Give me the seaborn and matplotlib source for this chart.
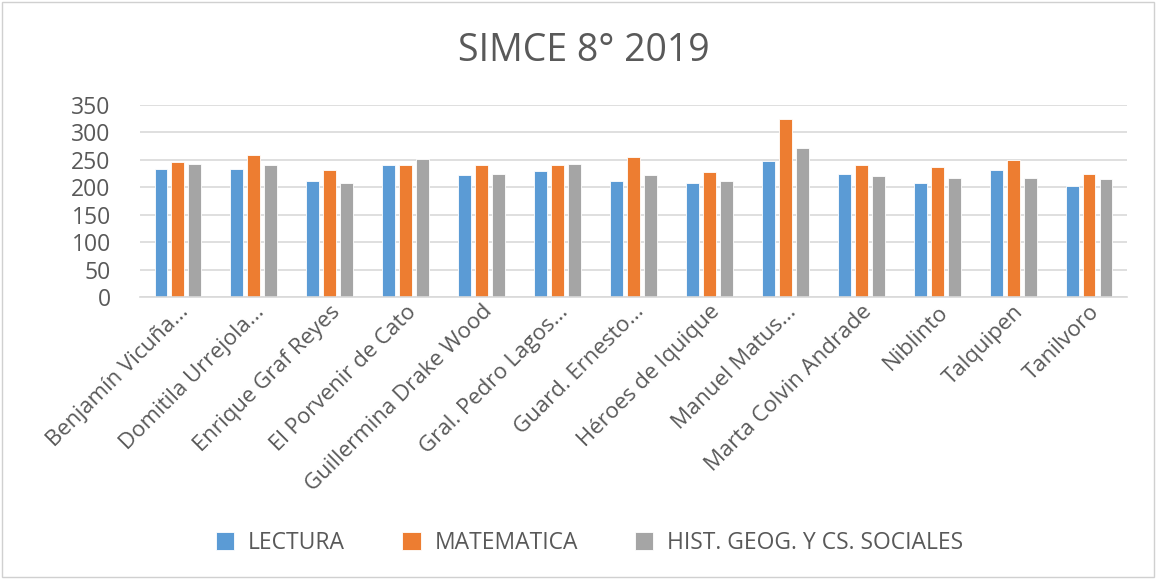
import matplotlib
matplotlib.use("Agg")
import matplotlib.pyplot as plt
import seaborn as sns
import pandas as pd
from matplotlib.patches import Rectangle

schools = ["Benjamín Vicuña...", "Domitila Urrejola...", "Enrique Graf Reyes",
           "El Porvenir de Cato", "Guillermina Drake Wood", "Gral. Pedro Lagos...",
           "Guard. Ernesto...", "Héroes de Iquique", "Manuel Matus...",
           "Marta Colvin Andrade", "Niblinto", "Talquipen", "Tanilvoro"]
lectura = [234, 234, 212, 240, 222, 229, 212, 208, 248, 224, 208, 231, 203]
matematica = [245, 259, 231, 240, 240, 240, 255, 227, 325, 240, 236, 250, 224]
historia = [243, 240, 208, 252, 224, 243, 222, 212, 271, 220, 217, 217, 215]
series_names = ["LECTURA", "MATEMATICA", "HIST. GEOG. Y CS. SOCIALES"]
colors = ["#5B9BD5", "#ED7D31", "#A5A5A5"]

rows = []
for name, vals in zip(series_names, [lectura, matematica, historia]):
    for s, v in zip(schools, vals):
        rows.append({"school": s, "serie": name, "valor": v})
df = pd.DataFrame(rows)

sns.set_theme(style="white")
plt.rcParams['font.family'] = ['Open Sans', 'DejaVu Sans']
txt = "#595959"

fig = plt.figure(figsize=(11.56, 5.79), dpi=100)
ax = fig.add_axes([0.121, 0.487, 0.854, 0.332])
sns.barplot(data=df, x="school", y="valor", hue="serie", hue_order=series_names,
            palette=colors, width=0.67, gap=0.25, ax=ax, saturation=1,
            edgecolor="white", linewidth=0.6, legend=True)
ax.set_ylim(0, 350)
ax.set_yticks(range(0, 351, 50))
ax.yaxis.grid(True, color="#D9D9D9", linewidth=1.2)
ax.set_axisbelow(True)
for s in ["top", "right", "left"]:
    ax.spines[s].set_visible(False)
ax.spines["bottom"].set_color("#D9D9D9")
ax.spines["bottom"].set_linewidth(1.2)
ax.set_xlabel("")
ax.set_ylabel("")
ax.set_xlim(-0.5, len(schools) - 0.5)
ax.tick_params(axis="y", labelsize=16.5, labelcolor=txt, length=0, pad=21)
ax.tick_params(axis="x", labelsize=16, labelcolor=txt, length=0, pad=3)
plt.setp(ax.get_xticklabels(), rotation=45, ha="right", rotation_mode="anchor")

ax.legend_.remove()
handles, labels = ax.get_legend_handles_labels()
fig.legend(handles, labels, loc="center", bbox_to_anchor=(0.51, 0.062), ncol=3,
           frameon=False, fontsize=16.5, labelcolor=txt, handlelength=0.8,
           handleheight=0.8, columnspacing=2.5, handletextpad=0.6)

fig.text(0.505, 0.912, "SIMCE 8° 2019", ha="center", va="center", fontsize=27, color=txt)
fig.patches.append(Rectangle((0.002, 0.004), 0.996, 0.992, transform=fig.transFigure,
                             fill=False, edgecolor="#D0D0D0", linewidth=1))
fig.savefig("out.png", dpi=100)
